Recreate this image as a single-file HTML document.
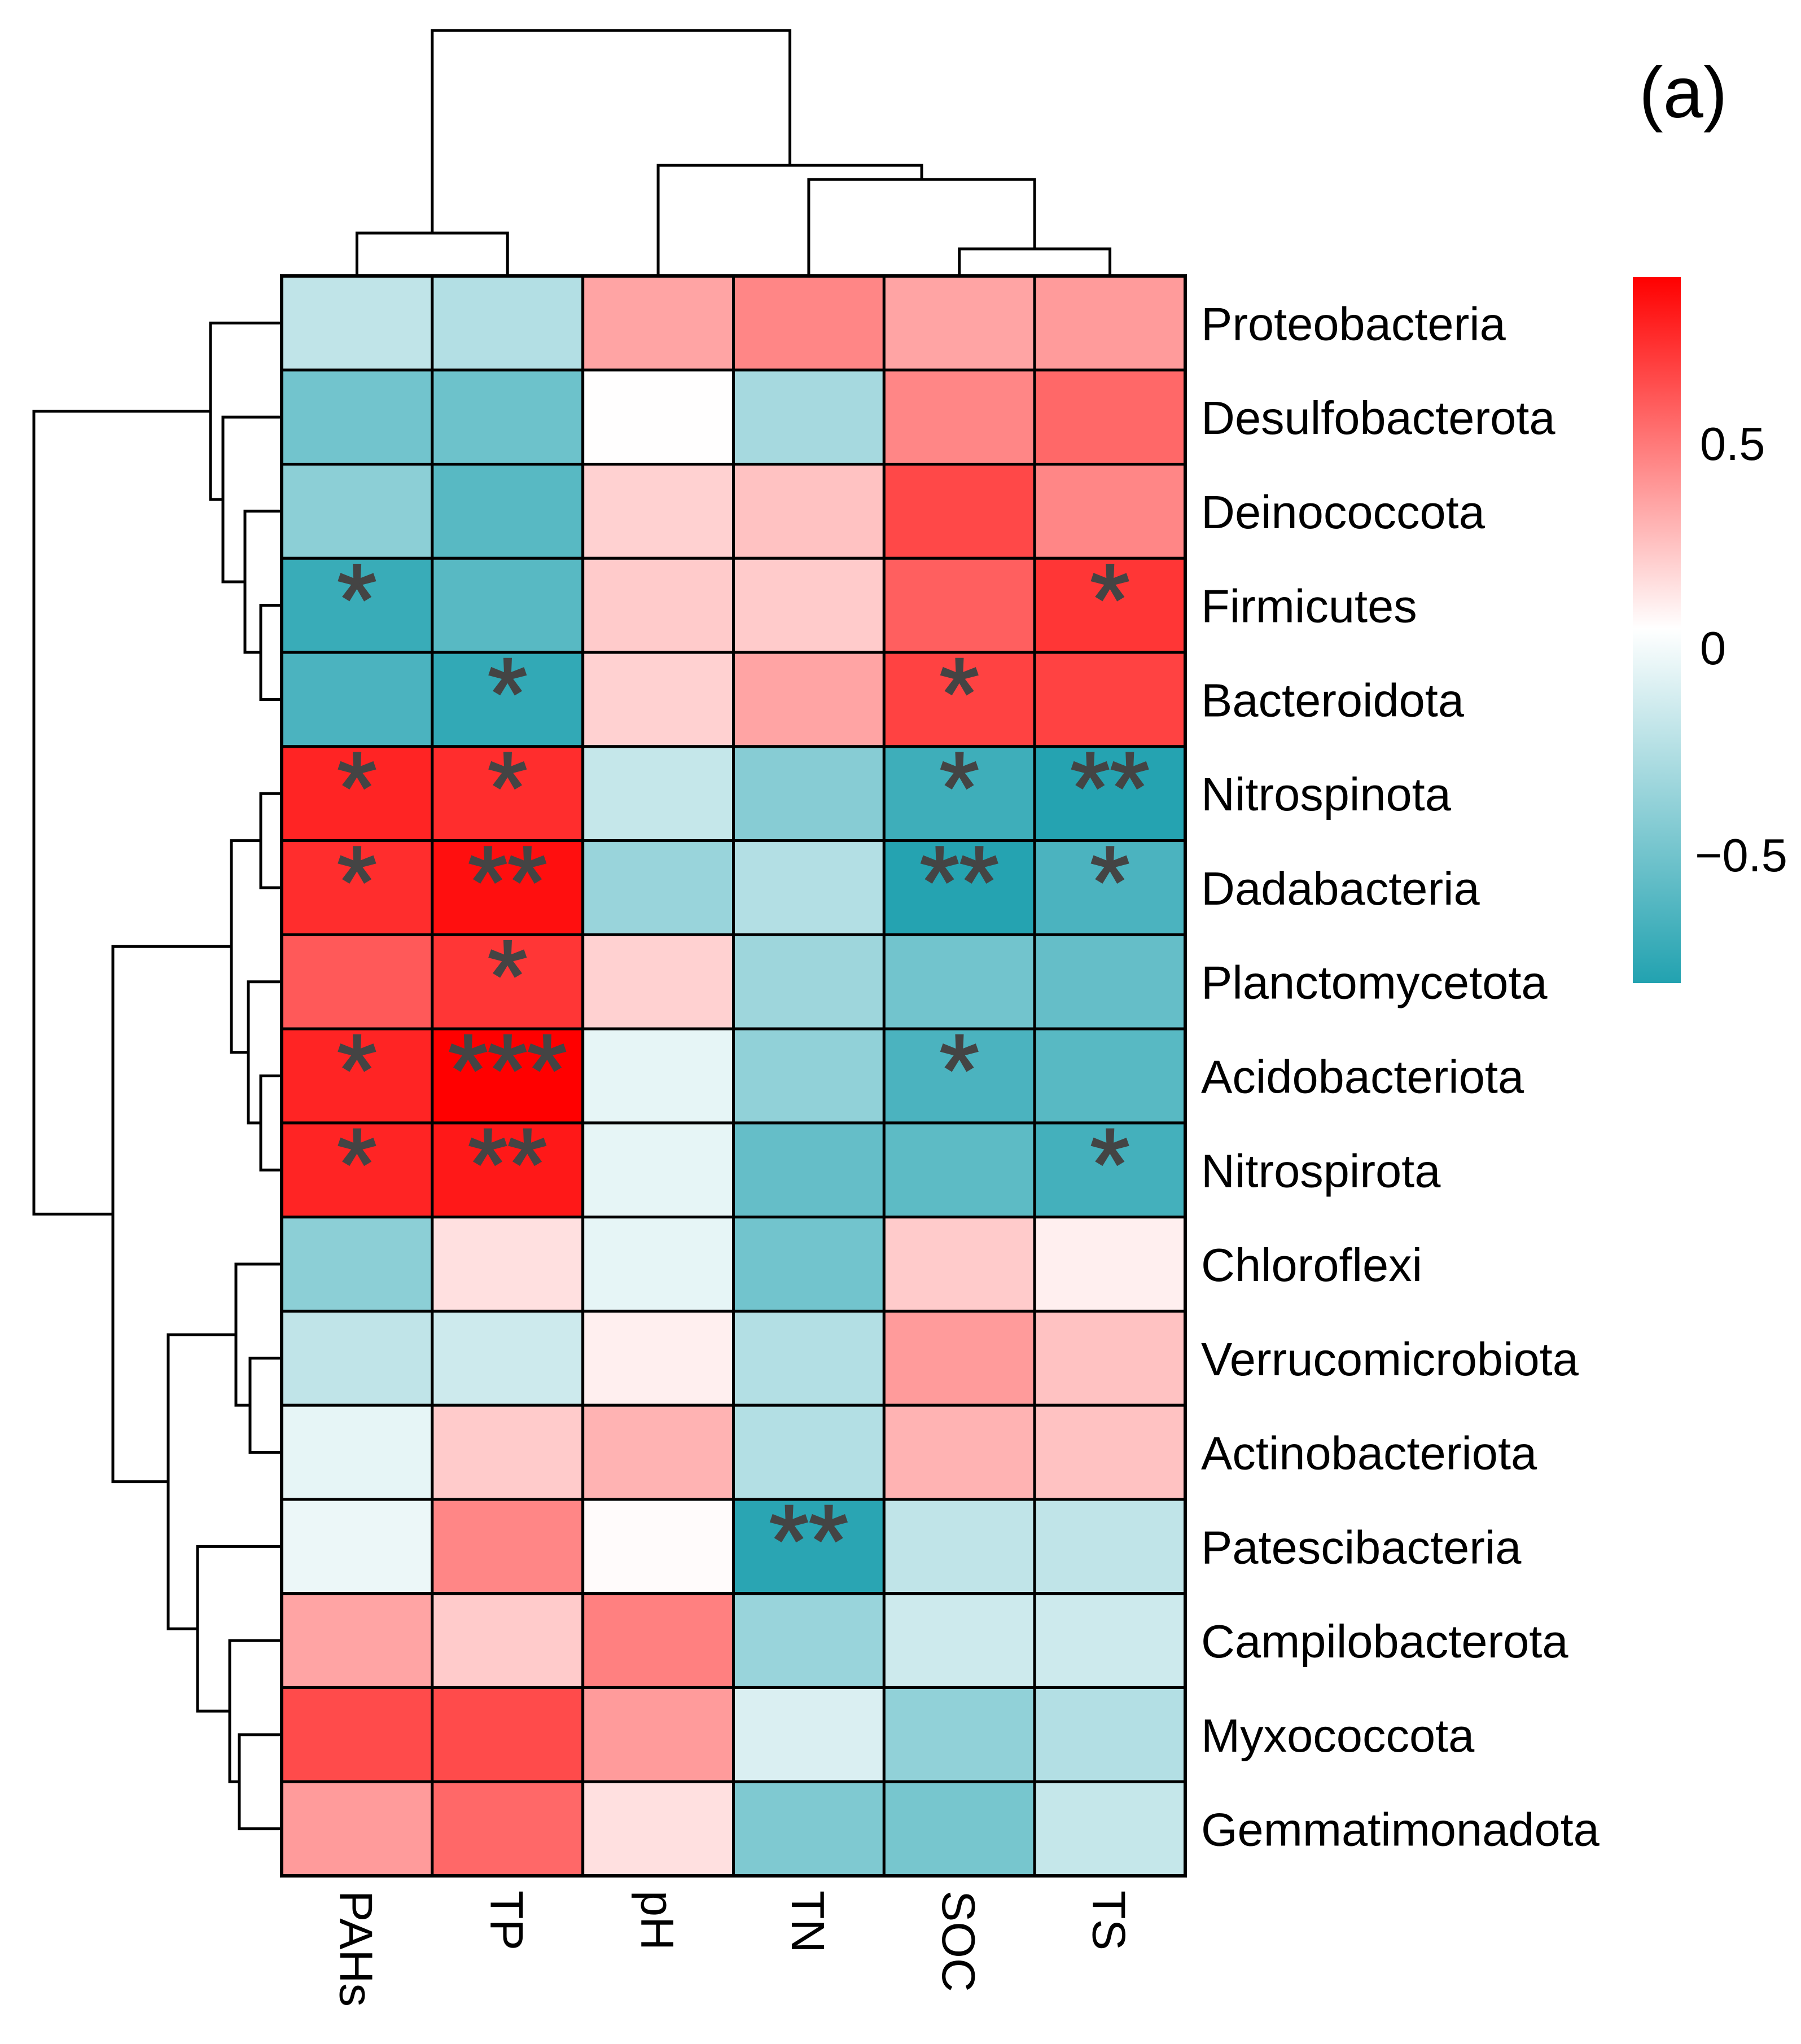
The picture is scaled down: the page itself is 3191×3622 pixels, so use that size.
<!DOCTYPE html>
<html><head><meta charset="utf-8"><style>html,body{margin:0;padding:0;background:#fff}svg{display:block}</style></head>
<body>
<svg id="chart" width="3191" height="3622" viewBox="0 0 3191 3622" xmlns="http://www.w3.org/2000/svg" font-family="'Liberation Sans', Arial, sans-serif">
<defs>
<linearGradient id="cbgrad" x1="0" y1="1" x2="0" y2="0">
<stop offset="0" stop-color="#22A2B0"/>
<stop offset="0.502" stop-color="#ffffff"/>
<stop offset="1" stop-color="#ff0000"/>
</linearGradient>
</defs>
<g id="cells"></g>
<g id="dendro" fill="none" stroke="#000" stroke-width="5" stroke-linecap="square"></g>
<g id="labels"></g>
<rect x="2893" y="491" width="85" height="1251" fill="url(#cbgrad)"/>
<text x="3012" y="815" font-size="83">0.5</text>
<text x="3012" y="1177" font-size="83">0</text>
<text x="3003" y="1544" font-size="83">−0.5</text>
<text x="2904" y="208" font-size="128">(a)</text>
</svg>
<script>
const rowNames = ["Proteobacteria","Desulfobacterota","Deinococcota","Firmicutes","Bacteroidota","Nitrospinota","Dadabacteria","Planctomycetota","Acidobacteriota","Nitrospirota","Chloroflexi","Verrucomicrobiota","Actinobacteriota","Patescibacteria","Campilobacterota","Myxococcota","Gemmatimonadota"];
const colNames = ["PAHs","TP","pH","TN","SOC","TS"];
const values = [
[-0.20,-0.25,0.35,0.45,0.35,0.38],
[-0.50,-0.52,0.05,-0.30,0.45,0.55],
[-0.40,-0.60,0.20,0.25,0.66,0.45],
[-0.72,-0.60,0.22,0.22,0.58,0.72],
[-0.65,-0.75,0.20,0.35,0.68,0.68],
[0.78,0.75,-0.18,-0.42,-0.70,-0.80],
[0.75,0.85,-0.35,-0.25,-0.80,-0.65],
[0.60,0.72,0.20,-0.33,-0.50,-0.55],
[0.78,0.90,-0.05,-0.38,-0.65,-0.60],
[0.78,0.82,-0.05,-0.55,-0.58,-0.68],
[-0.40,0.15,-0.05,-0.50,0.22,0.10],
[-0.20,-0.15,0.10,-0.25,0.38,0.25],
[-0.05,0.22,0.30,-0.25,0.30,0.25],
[-0.03,0.45,0.06,-0.78,-0.20,-0.20],
[0.35,0.22,0.47,-0.35,-0.15,-0.15],
[0.65,0.65,0.38,-0.10,-0.38,-0.25],
[0.38,0.55,0.15,-0.45,-0.48,-0.18]];
const stars = [
["","","","","",""],["","","","","",""],["","","","","",""],
["*","","","","","*"],["","*","","","*",""],
["*","*","","","*","**"],["*","**","","","**","*"],
["","*","","","",""],["*","***","","","*",""],["*","**","","","","*"],
["","","","","",""],["","","","","",""],["","","","","",""],
["","","","**","",""],["","","","","",""],["","","","","",""],["","","","","",""]];
const colTree = [54,[413,0,1],[293,2,[318,3,[441,4,5]]]];
const rowTree = [60,[373,0,[395,1,[434,2,[462,3,4]]]],[200,[410,[462,5,6],[440,7,[462,8,9]]],[298,[418,10,[443,11,12]],[350,13,[407,14,[424,15,16]]]]]];
const vMin=-0.81, vMax=0.9, vMid=0.045;

const NS="http://www.w3.org/2000/svg";
const X0=499,X1=2100,Y0=489,Y1=3324;
const cw=(X1-X0)/colNames.length, rh=(Y1-Y0)/rowNames.length;
const xC=i=>X0+cw*(i+0.5), yR=i=>Y0+rh*(i+0.5);
function lerp(a,b,t){return a.map((v,i)=>Math.round(v+(b[i]-v)*t));}
function color(v){
  const teal=[34,162,176],white=[255,255,255],red=[255,0,0];
  let c;
  if(v<=vMid){c=lerp(teal,white,Math.max(0,(v-vMin)/(vMid-vMin)));}
  else{c=lerp(white,red,Math.min(1,(v-vMid)/(vMax-vMid)));}
  return `rgb(${c[0]},${c[1]},${c[2]})`;
}
function mk(tag,attrs,parent){const e=document.createElementNS(NS,tag);for(const k in attrs)e.setAttribute(k,attrs[k]);parent.appendChild(e);return e;}
const gC=document.getElementById('cells'),gD=document.getElementById('dendro'),gL=document.getElementById('labels');
values.forEach((row,r)=>row.forEach((v,c)=>{
  const e=mk('rect',{x:X0+cw*c,y:Y0+rh*r,width:cw,height:rh,fill:color(v),stroke:'#000','stroke-width':5},gC);
  
  
  const s=stars[r][c];
  if(s){
    const t=mk('text',{x:xC(c),y:Y0+rh*r+135,'text-anchor':'middle','font-size':180,fill:'#444',stroke:'#444','stroke-width':3},gC);
    t.textContent=s;
    
    
  }
}));
mk('rect',{x:X0,y:Y0,width:X1-X0,height:Y1-Y0,fill:'none',stroke:'#000','stroke-width':6},gC);
function drawTree(node,leafPos,edge,vertical){
  if(typeof node==='number') return {c:leafPos(node),lvl:edge};
  const a=drawTree(node[1],leafPos,edge,vertical),b=drawTree(node[2],leafPos,edge,vertical);
  const h=node[0];
  let d;
  if(vertical){
    d=`M${a.c},${a.lvl}V${h}H${b.c}V${b.lvl}`;
  }else{
    d=`M${a.lvl},${a.c}H${h}V${b.c}H${b.lvl}`;
  }
  const p=mk('path',{d:d},gD);
  
  
  return {c:(a.c+b.c)/2,lvl:h};
}
drawTree(colTree,xC,Y0,true);
drawTree(rowTree,yR,X0,false);
rowNames.forEach((n,i)=>{
  const t=mk('text',{x:2128,y:yR(i)+30,'font-size':83,fill:'#000'},gL);
  t.textContent=n;
  
  
});
colNames.forEach((n,i)=>{
  const x=xC(i)-30,y=3350;
  const t=mk('text',{x:x,y:y,'font-size':83,fill:'#000',transform:`rotate(90 ${x} ${y})`},gL);
  t.textContent=n;
  
  
});
</script>
</body></html>
